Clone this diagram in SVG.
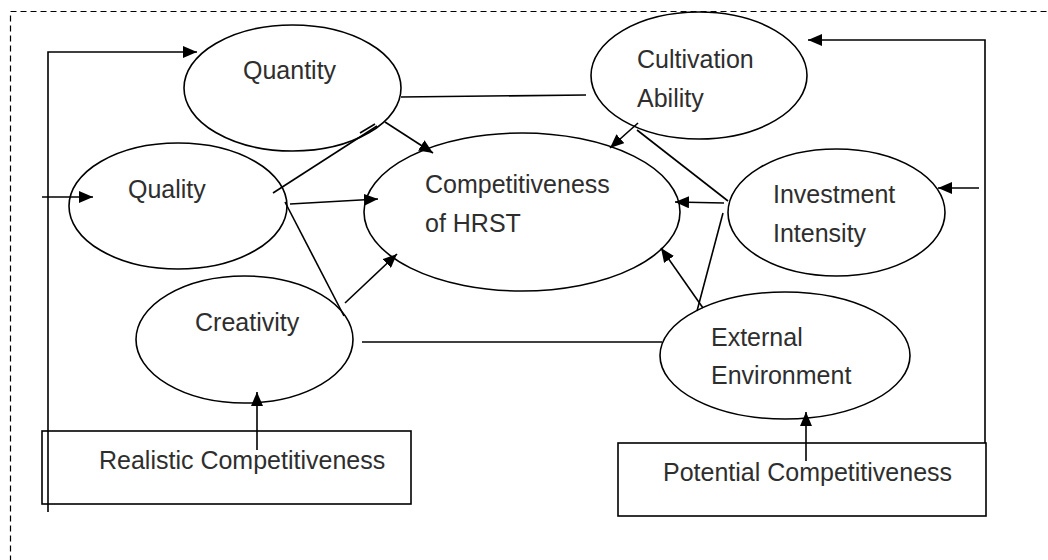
<svg xmlns="http://www.w3.org/2000/svg" width="1048" height="560" viewBox="0 0 1048 560">
  <defs>
    <marker id="arrow" markerUnits="userSpaceOnUse" markerWidth="14" markerHeight="12" refX="14" refY="6" orient="auto">
      <path d="M0,0 L14,6 L0,12 z" fill="#000"/>
    </marker>
    <style>
      .node ellipse, .node rect { fill: #fff; stroke: #000; stroke-width: 1.6; }
      .node text { font-family: "Liberation Sans", Arial, sans-serif; font-size: 25px; fill: #2e2e2e; }
      .conn line, .conn polyline { stroke: #000; stroke-width: 1.6; fill: none; }
      .conn .arr { marker-end: url(#arrow); }
      .frame { fill: none; stroke: #000; stroke-width: 1.2; stroke-dasharray: 6 4; }
    </style>
  </defs>

  <rect width="1048" height="560" fill="#fff"/>
  <!-- dashed frame (open to the right and bottom) -->
  <rect class="frame" x="10.5" y="11.5" width="1060" height="580"/>

  <!-- nodes -->
  <g id="quantity" class="node">
    <ellipse cx="292.5" cy="88" rx="108.5" ry="63"/>
    <text x="243" y="79">Quantity</text>
  </g>
  <g id="quality" class="node">
    <ellipse cx="178" cy="206" rx="109" ry="63"/>
    <text x="128" y="198">Quality</text>
  </g>
  <g id="creativity" class="node">
    <ellipse cx="244.5" cy="339.5" rx="108.5" ry="63.5"/>
    <text x="195" y="331">Creativity</text>
  </g>
  <g id="hrst" class="node">
    <ellipse cx="522" cy="212" rx="158" ry="79"/>
    <text x="425" y="193">Competitiveness</text>
    <text x="425" y="232">of HRST</text>
  </g>
  <g id="cultivation" class="node">
    <ellipse cx="699" cy="75.5" rx="108" ry="63.5"/>
    <text x="637" y="68">Cultivation</text>
    <text x="637" y="107">Ability</text>
  </g>
  <g id="investment" class="node">
    <ellipse cx="836.5" cy="212.5" rx="108.5" ry="63.5"/>
    <text x="773" y="203">Investment</text>
    <text x="773" y="242">Intensity</text>
  </g>
  <g id="external" class="node">
    <ellipse cx="785" cy="355.5" rx="125" ry="63.5"/>
    <text x="711" y="346">External</text>
    <text x="711" y="384">Environment</text>
  </g>
  <g id="realistic" class="node">
    <rect x="42" y="431" width="369" height="73"/>
    <text x="99" y="469">Realistic Competitiveness</text>
  </g>
  <g id="potential" class="node">
    <rect x="618" y="443" width="368" height="73"/>
    <text x="663" y="481">Potential Competitiveness</text>
  </g>

  <!-- connectors -->
  <g id="connectors" class="conn">
    <!-- realistic feedback loop -->
    <polyline class="arr" points="48,512 48,52 197,52"/>
    <line class="arr" x1="42" y1="197" x2="93" y2="197"/>
    <!-- potential feedback loop -->
    <polyline class="arr" points="985,443 985,40 808,40"/>
    <line class="arr" x1="979" y1="188" x2="938" y2="188"/>

    <!-- arrows into the core -->
    <line class="arr" x1="385" y1="122" x2="433" y2="153"/>
    <line class="arr" x1="290" y1="204" x2="378" y2="199"/>
    <line class="arr" x1="345" y1="303" x2="397" y2="254"/>
    <line class="arr" x1="638" y1="123" x2="610" y2="148"/>
    <line class="arr" x1="724" y1="203" x2="675" y2="202"/>
    <line class="arr" x1="703" y1="308" x2="661" y2="248"/>

    <!-- box to ellipse -->
    <line class="arr" x1="257" y1="450" x2="257" y2="392"/>
    <line class="arr" x1="806" y1="461" x2="806" y2="412"/>

    <!-- undirected links -->
    <line x1="401" y1="97" x2="586" y2="95"/>
    <line x1="377" y1="126" x2="273" y2="193"/>
    <line x1="375" y1="124" x2="360" y2="133"/>
    <line x1="285" y1="202" x2="344" y2="316"/>
    <line x1="362" y1="342" x2="662" y2="342"/>
    <line x1="637" y1="130" x2="728" y2="201"/>
    <line x1="723" y1="213" x2="697" y2="311"/>
  </g>
</svg>
